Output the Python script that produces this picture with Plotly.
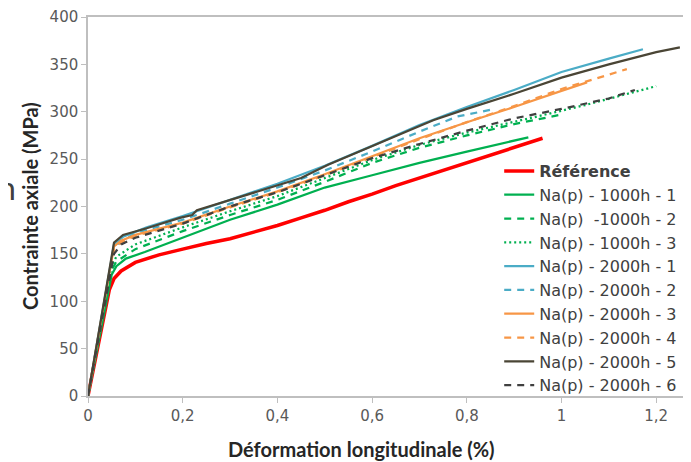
import plotly.graph_objs as go

# Référence
ref_x = [0, 0.045, 0.055, 0.07, 0.1, 0.15, 0.2, 0.25, 0.3, 0.35, 0.4, 0.45, 0.5, 0.55, 0.6, 0.65, 0.7, 0.75, 0.8, 0.85, 0.9, 0.96]
ref_y = [0, 112, 124, 132, 141, 149, 155, 161, 166, 173, 180, 188, 196, 205, 213, 222, 230, 238, 246, 254, 262, 272]

# Na(p) - 1000h
h1000_1_x = [0, 0.05, 0.06, 0.08, 0.12, 0.2, 0.3, 0.4, 0.5, 0.6, 0.7, 0.8, 0.93]
h1000_1_y = [0, 128, 137, 145, 152, 167, 186, 202, 220, 233, 246, 258, 273]
h1000_2_x = [0, 0.05, 0.06, 0.1, 0.2, 0.3, 0.4, 0.5, 0.6, 0.7, 0.8, 0.9, 1.0]
h1000_2_y = [0, 133, 142, 155, 174, 191, 207, 226, 246, 262, 275, 287, 297]
h1000_3_x = [0, 0.05, 0.06, 0.1, 0.2, 0.3, 0.4, 0.5, 0.6, 0.7, 0.8, 0.94, 1.05, 1.2]
h1000_3_y = [0, 138, 147, 160, 178, 195, 211, 230, 249, 265, 278, 294, 307, 327]

# Na(p) - 2000h
h2000_1_x = [0, 0.055, 0.074, 0.124, 0.2, 0.3, 0.4, 0.5, 0.6, 0.7, 0.8, 0.9, 1.0, 1.1, 1.172]
h2000_1_y = [0, 160, 168, 178, 190, 207, 224, 243, 264, 286, 305, 323, 342, 356, 366]
h2000_2_x = [0, 0.055, 0.1, 0.2, 0.3, 0.4, 0.5, 0.6, 0.7, 0.78, 0.85]
h2000_2_y = [0, 158, 172, 186, 203, 220, 238, 258, 279, 295, 302]
h2000_3_x = [0, 0.055, 0.07, 0.1, 0.2, 0.3, 0.4, 0.5, 0.6, 0.7, 0.813, 0.9, 1.0, 1.054]
h2000_3_y = [0, 158, 164, 170, 183, 200, 216, 234, 253, 272, 291, 305, 322, 331]
h2000_4_x = [0, 0.055, 0.07, 0.1, 0.2, 0.3, 0.4, 0.5, 0.6, 0.7, 0.8, 0.9, 1.0, 1.138]
h2000_4_y = [0, 155, 162, 169, 182, 199, 215, 233, 252, 271, 289, 306, 324, 345]
h2000_5_x = [0, 0.055, 0.074, 0.124, 0.194, 0.22, 0.23, 0.3, 0.335, 0.4, 0.45, 0.507, 0.6, 0.729, 0.8, 0.9, 1.0, 1.1, 1.2, 1.25]
h2000_5_y = [0, 162, 170, 177, 188, 191, 196, 207, 212, 222, 230, 244, 264, 291, 303, 319, 336, 350, 363, 368]
h2000_6_x = [0, 0.055, 0.07, 0.1, 0.2, 0.3, 0.4, 0.5, 0.6, 0.7, 0.8, 0.9, 1.0, 1.1, 1.155]
h2000_6_y = [0, 150, 160, 167, 182, 200, 215, 233, 251, 266, 280, 293, 303, 314, 323]

x_ticks = [0, 0.2, 0.4, 0.6, 0.8, 1.0, 1.2]
y_ticks = [0, 50, 100, 150, 200, 250, 300, 350, 400]

TITLE_FONT = "Lato"
TEXT_FONT = "DejaVu Sans"
GREEN = "#00B050"
BLUE = "#4BACC6"
ORANGE = "#F79646"

series = [
    ("<b>Référence</b>", ref_x, ref_y, "#FF0000", "solid", 3.5),
    ("Na(p) - 1000h - 1", h1000_1_x, h1000_1_y, GREEN, "solid", 2.25),
    ("Na(p)  -1000h - 2", h1000_2_x, h1000_2_y, GREEN, "7px,6px", 2.25),
    ("Na(p) - 1000h - 3", h1000_3_x, h1000_3_y, GREEN, "2px,3px", 2.25),
    ("Na(p) - 2000h - 1", h2000_1_x, h2000_1_y, BLUE, "solid", 2.25),
    ("Na(p) - 2000h - 2", h2000_2_x, h2000_2_y, BLUE, "7px,6px", 2.25),
    ("Na(p) - 2000h - 3", h2000_3_x, h2000_3_y, ORANGE, "solid", 2.25),
    ("Na(p) - 2000h - 4", h2000_4_x, h2000_4_y, ORANGE, "7px,6px", 2.25),
    ("Na(p) - 2000h - 5", h2000_5_x, h2000_5_y, "#4A4535", "solid", 2.25),
    ("Na(p) - 2000h - 6", h2000_6_x, h2000_6_y, "#404040", "7px,6px", 2.25),
]

fig = go.Figure()
for name, xs, ys, color, dash, w in series:
    fig.add_trace(go.Scatter(x=xs, y=ys, mode="lines", name=name,
                             line=dict(color=color, dash=dash, width=w)))

# axis titles placed as annotations so they sit where the original has them
fig.add_annotation(x=0.4484, y=-0.1398, xref="paper", yref="paper",
                   text="<b>Déformation longitudinale (%)</b>", showarrow=False,
                   xanchor="center", yanchor="middle",
                   font=dict(family=TITLE_FONT, size=20, color="#262626"))
fig.add_annotation(x=-0.0949, y=0.5013, xref="paper", yref="paper",
                   text="<b>Contrainte axiale (MPa)</b>", showarrow=False, textangle=-90,
                   xanchor="center", yanchor="middle",
                   font=dict(family=TITLE_FONT, size=20, color="#262626"))

# cropped letter from a neighbouring slide
fig.add_annotation(x=-0.1149, y=0.549, xref="paper", yref="paper", text="n",
                   showarrow=False, xanchor="right", yanchor="middle",
                   font=dict(family=TITLE_FONT, size=32, color="#404040"))

# the page body has an 8px margin, so margins are shifted to compensate
fig.update_layout(
    width=691, height=462,
    margin=dict(l=80, r=0, t=9, b=74, autoexpand=False),
    paper_bgcolor="white", plot_bgcolor="white",
    separators=", ",
    font=dict(family=TEXT_FONT, size=15, color="#595959"),
    legend=dict(x=0.673, y=0.6385, xanchor="left", yanchor="top",
                bgcolor="rgba(255,255,255,0)", tracegroupgap=0,
                font=dict(family=TEXT_FONT, size=16, color="#404040")),
)
fig.update_xaxes(range=[0, 1.2904], tickvals=x_ticks, showgrid=False, zeroline=False,
                 showline=True, linecolor="#BFBFBF", linewidth=1.5, mirror=True,
                 ticks="outside", ticklen=5, tickcolor="#BFBFBF", automargin=False,
                 tickfont=dict(family=TEXT_FONT, size=15, color="#595959"))
fig.update_yaxes(range=[0, 400], tickvals=y_ticks, showgrid=False, zeroline=False,
                 showline=True, linecolor="#BFBFBF", linewidth=1.5,
                 ticks="outside", ticklen=5, tickcolor="#BFBFBF", automargin=False,
                 ticklabeloverflow="allow",
                 tickfont=dict(family=TEXT_FONT, size=15, color="#595959"))

fig.write_html("out.html")
